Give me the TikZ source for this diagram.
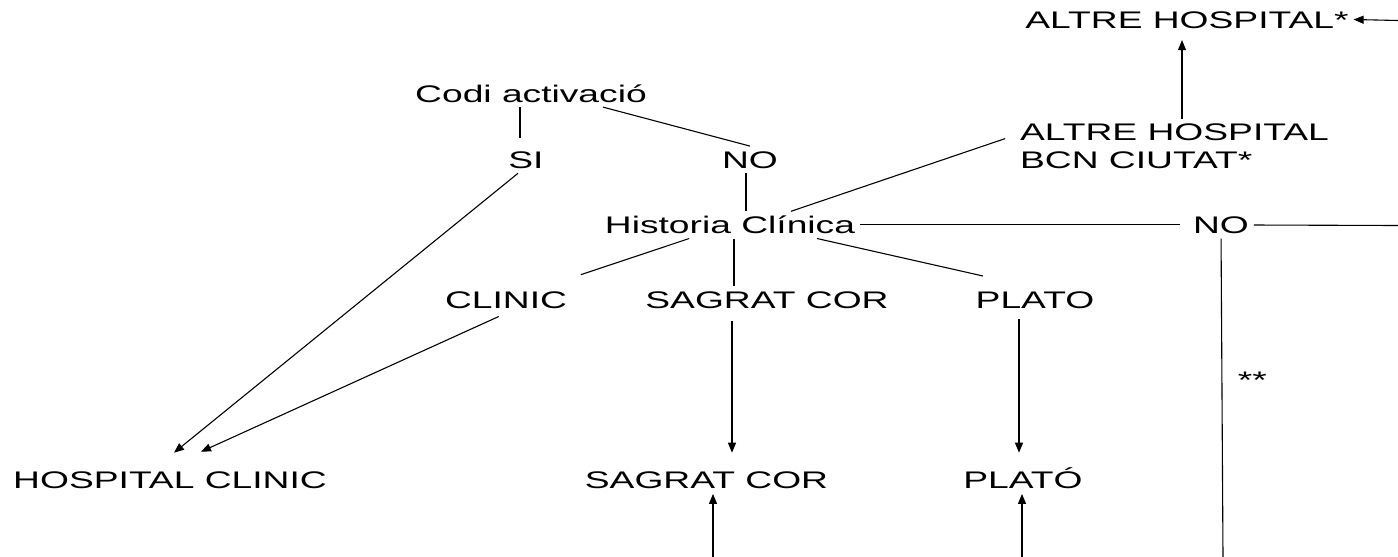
\documentclass[tikz,border=0pt]{standalone}
\usepackage{fontspec}
\setmainfont{Liberation Sans}[FakeStretch=1.55]
\usetikzlibrary{positioning,arrows.meta}

\begin{document}
\begin{tikzpicture}[x=1pt, y=1pt, line width=1.1pt, >={Triangle[length=10pt,width=8pt]},
    every node/.style={font=\fontsize{24}{28}\selectfont, inner sep=5pt, outer sep=0pt, text height=17.2pt, text depth=0pt}]
    \useasboundingbox (0,0) rectangle (1398,-557);

    % Arrel
    \node (codi) at (531,-93.5) {Codi activació};
    \node[below=39pt of codi, xshift=-5pt] (si) {SI};
    \node[below=39pt of codi, xshift=219pt] (no) {NO};
    \node[below=38pt of no, xshift=-20pt] (historia) {Historia Clínica};
    \node[right=328pt of historia] (noHist) {NO};

    % Centres
    \node[below=47.5pt of historia, xshift=-224pt] (clinic) {CLINIC};
    \node[below=47.5pt of historia, xshift=37pt] (sagrat) {SAGRAT COR};
    \node[below=47.5pt of historia, xshift=305pt] (plato) {PLATO};

    % Destins
    \node[below=153.5pt of clinic, xshift=-336pt] (hospClinic) {HOSPITAL CLINIC};
    \node[below=153.5pt of sagrat, xshift=-60.5pt] (sagratDest) {SAGRAT COR};
    \node[below=153.5pt of plato, xshift=-12pt] (platoDest) {PLATÓ};

    % Altres hospitals
    \node (altre) at (1187,-19.5) {ALTRE HOSPITAL*};
    \node[below=86pt of altre, xshift=-12.5pt, align=left, text height={}, text depth={}] (altreBcn) {ALTRE HOSPITAL\\BCN CIUTAT*};

    % Extrems lliures
    \coordinate (dreta1) at (1398,-20.5);
    \coordinate (dreta2) at (1398,-225.5);
    \coordinate (baix1) at (713,-557);
    \coordinate (baix2) at (1022,-557);
    \coordinate (baix3) at (1223,-557);

    % Linies
    \draw[shorten >=8pt] ([xshift=-11pt]codi.south) -- ([xshift=-6pt]si.north);
    \draw ([xshift=72pt]codi.south) -- (no.north);
    \draw ([xshift=-4pt]no.south) -- ([xshift=-4pt]no.south |- historia.north);
    \draw[shorten >=8pt] (historia) -- (noHist);
    \draw ([xshift=61pt]historia.north) -- ([shift={(-10pt,8pt)}]altreBcn.west);
    \draw[shorten >=36pt] (historia) -- (clinic);
    \draw ([xshift=4pt]historia.south) -- ([xshift=4pt]historia.south |- sagrat.north);
    \draw ([xshift=87pt]historia.south) -- ([shift={(-52pt,10pt)}]plato.north);
    \draw (noHist) -- (dreta2);
    \draw (noHist) -- node[pos=0.445, anchor=west, xshift=11pt] (estrelles) {**} (baix3);

    % Fletxes
    \draw[->] ([xshift=-8pt]si.south) -- ([shift={(4pt,14pt)}]hospClinic.north);
    \draw[->, shorten <=8pt] (clinic.south) -- ([shift={(31pt,15pt)}]hospClinic.north);
    \draw[->, shorten <=8pt, shorten >=14pt] ([xshift=-35pt]sagrat.south) -- ([xshift=-35pt]sagrat.south |- sagratDest.north);
    \draw[->, shorten <=6pt, shorten >=14pt] ([xshift=-16pt]plato.south) -- ([xshift=-16pt]plato.south |- platoDest.north);
    \draw[->] (baix1) -- (baix1 |- sagratDest.south);
    \draw[->] (baix2) -- (baix2 |- platoDest.south);
    \draw[->, shorten >=7pt] ([xshift=7.5pt]altreBcn.north) -- ([xshift=7.5pt]altreBcn.north |- altre.south);
    \draw[->] (dreta1) -- (altre.east);
\end{tikzpicture}
\end{document}
